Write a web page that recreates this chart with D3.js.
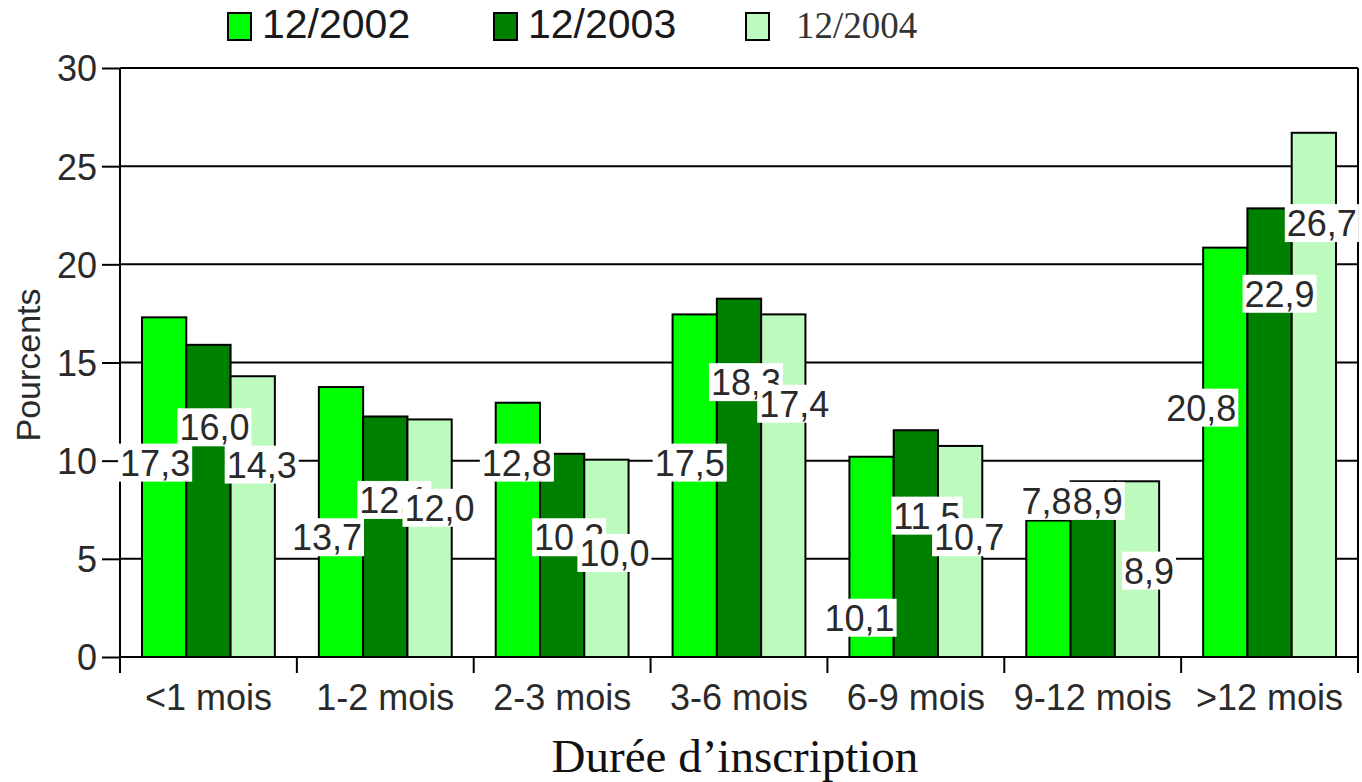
<!DOCTYPE html>
<html>
<head>
<meta charset="utf-8">
<script src="https://cdn.jsdelivr.net/npm/d3@7"></script>
<style>
  body { margin: 0; background: #fff; }
  .sans { font-family: "Liberation Sans", Arial, sans-serif; fill: #2a2a2a; }
  .serif { font-family: "Liberation Serif", "Times New Roman", serif; fill: #111; }
</style>
</head>
<body>
<div id="chart"></div>
<script>
// Data
// ==========================================
var categories = ["<1 mois", "1-2 mois", "2-3 mois", "3-6 mois", "6-9 mois", "9-12 mois", ">12 mois"];
var series = ["12/2002", "12/2003", "12/2004"];
// bar heights as drawn
var v2002 = [17.3, 13.75, 12.95, 17.45, 10.2, 6.95, 20.85];
var v2003 = [15.9, 12.25, 10.35, 18.25, 11.55, 8.95, 22.85];
var v2004 = [14.3, 12.1, 10.05, 17.45, 10.75, 8.95, 26.7];
// value labels as printed
var l2002 = ["17,3", "13,7", "12,8", "17,5", "10,1", "7,8", "20,8"];
var l2003 = ["16,0", "12,1", "10,3", "18,3", "11,5", "8,9", "22,9"];
var l2004 = ["14,3", "12,0", "10,0", "17,4", "10,7", "8,9", "26,7"];
var yTicks = [0, 5, 10, 15, 20, 25, 30];

var colors = ["#00ff00", "#008000", "#bdfabd"];

// label placement quirks of the original (dx in px, y in value units)
var labelNudge = [
    [[-9, 9.9], [6, 11.7], [9, 9.8]],
    [[-14, 6.1], [9, 8.0], [10, 7.6]],
    [[-1, 9.9], [7, 6.1], [8, 5.3]],
    [[-5, 9.9], [7, 14.0], [11, 12.9]],
    [[-12, 2.0], [11, 7.2], [9, 6.1]],
    [[-2, 7.95], [5, 7.95], [12, 4.4]],
    [[-24, 12.7], [10, 18.5], [8, 22.1]]
];

var values = [v2002, v2003, v2004];
var labels = [l2002, l2003, l2004];

var rows = [];
categories.forEach(function(c, i) {
    series.forEach(function(s, j) {
        rows.push({cat: c, ser: s, si: j, ci: i, value: values[j][i], label: labels[j][i]});
    });
});

// Set up the chart
// ==========================================
var svgWidth = 1362;
var svgHeight = 782;

var svg = d3.select("#chart")
    .append("svg")
    .attr("width", svgWidth)
    .attr("height", svgHeight);

var plotLeft = 120, plotRight = 1358, plotTop = 68, plotBottom = 657;

var x0 = d3.scaleBand().domain(categories).range([plotLeft, plotRight]).padding(0);
var x1 = d3.scaleBand().domain(series).range([22, x0.bandwidth() - 22]).padding(0);
var y = d3.scaleLinear().domain([0, 30]).range([plotBottom, plotTop]);

// gridlines
svg.append("g").selectAll("line")
    .data(yTicks.slice(1))
    .enter().append("line")
    .attr("x1", plotLeft).attr("x2", plotRight)
    .attr("y1", d => y(d)).attr("y2", d => y(d))
    .attr("stroke", "#000").attr("stroke-width", 2);

// right border
svg.append("line")
    .attr("x1", plotRight).attr("x2", plotRight)
    .attr("y1", y(30)).attr("y2", plotBottom + 16)
    .attr("stroke", "#000").attr("stroke-width", 2);

// bars
svg.append("g").selectAll("rect")
    .data(rows)
    .enter().append("rect")
    .attr("x", d => x0(d.cat) + x1(d.ser))
    .attr("y", d => y(d.value))
    .attr("width", x1.bandwidth())
    .attr("height", d => y(0) - y(d.value))
    .attr("fill", d => colors[d.si])
    .attr("stroke", "#000")
    .attr("stroke-width", 2);

// y axis
var leftAxis = d3.axisLeft(y).tickValues(yTicks).tickSize(18).tickPadding(5);
var gy = svg.append("g")
    .attr("transform", `translate(${plotLeft},0)`)
    .call(leftAxis);
gy.select(".domain").remove();
gy.selectAll(".tick line").attr("stroke", "#000").attr("stroke-width", 2);
gy.selectAll(".tick text")
    .attr("class", "sans")
    .style("font-size", "36px")
    .attr("dy", "0.36em");
gy.append("line")
    .attr("x1", 0).attr("x2", 0)
    .attr("y1", y(30)).attr("y2", plotBottom + 16)
    .attr("stroke", "#000").attr("stroke-width", 2);

// x axis
svg.append("line")
    .attr("x1", plotLeft).attr("x2", plotRight)
    .attr("y1", plotBottom).attr("y2", plotBottom)
    .attr("stroke", "#000").attr("stroke-width", 2);

var edges = categories.map(c => x0(c)).concat([plotRight]);
svg.append("g").selectAll("line")
    .data(edges)
    .enter().append("line")
    .attr("x1", d => d).attr("x2", d => d)
    .attr("y1", plotBottom).attr("y2", plotBottom + 16)
    .attr("stroke", "#000").attr("stroke-width", 2);

var bottomAxis = d3.axisBottom(x0).tickSize(0).tickPadding(0);
var gx = svg.append("g")
    .attr("transform", `translate(0,${plotBottom})`)
    .call(bottomAxis);
gx.select(".domain").remove();
gx.selectAll(".tick text")
    .attr("class", "sans")
    .attr("y", 53)
    .attr("dy", 0)
    .style("font-size", "36px");

// value labels with white boxes
var labelGroup = svg.append("g");
rows.forEach(function(d) {
    var nudge = labelNudge[d.ci][d.si];
    var cx = x0(d.cat) + x1(d.ser) + x1.bandwidth() / 2 + nudge[0];
    var cy = y(nudge[1]);
    var g = labelGroup.append("g");
    var t = g.append("text")
        .attr("class", "sans")
        .attr("x", cx)
        .attr("y", cy + 13)
        .attr("text-anchor", "middle")
        .style("font-size", "36px")
        .text(d.label);
    var bb = t.node().getBBox();
    g.insert("rect", "text")
        .attr("x", bb.x - 2)
        .attr("y", cy - 19)
        .attr("width", bb.width + 4)
        .attr("height", 38)
        .attr("fill", "#fff");
});

// legend
var legendX = [228, 494, 746];
var legend = svg.append("g");
series.forEach(function(s, i) {
    legend.append("rect")
        .attr("x", legendX[i]).attr("y", 13)
        .attr("width", 23).attr("height", 27)
        .attr("fill", colors[i])
        .attr("stroke", "#000").attr("stroke-width", 2);
    legend.append("text")
        .attr("class", i === 2 ? "serif" : "sans")
        .attr("x", legendX[i] + (i === 2 ? 50 : 34))
        .attr("y", 38)
        .style("font-size", i === 2 ? "37px" : "41px")
        .style("fill", i === 2 ? "#333" : "#1a1a1a")
        .text(s);
});

// Text for y-axis
svg.append("text")
    .attr("class", "sans")
    .attr("transform", "translate(40, 365) rotate(-90)")
    .attr("text-anchor", "middle")
    .style("font-size", "34px")
    .text("Pourcents");

// Text for x-axis
svg.append("text")
    .attr("class", "serif")
    .attr("x", 735)
    .attr("y", 772)
    .attr("text-anchor", "middle")
    .style("font-size", "47px")
    .text("Durée d’inscription");
</script>
</body>
</html>
